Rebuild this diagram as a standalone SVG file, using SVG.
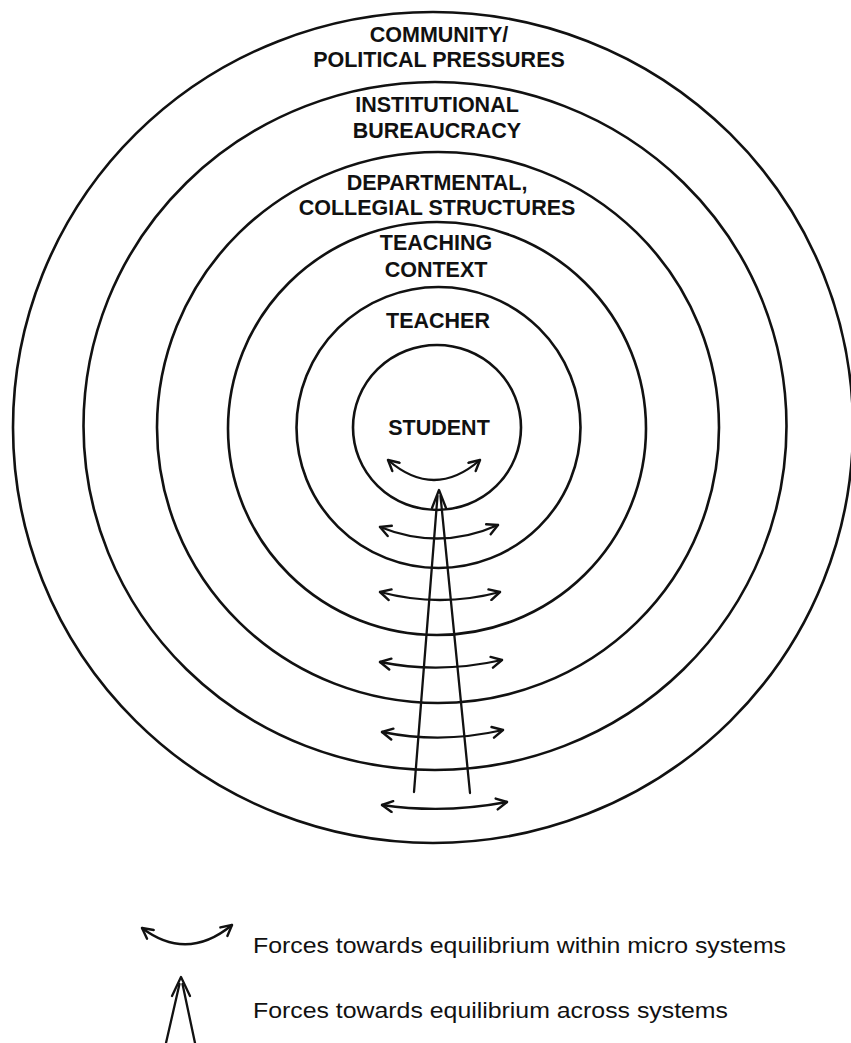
<svg xmlns="http://www.w3.org/2000/svg" width="851" height="1043" viewBox="0 0 851 1043">
  <style>
    .ring { fill: none; stroke: #111; stroke-width: 2.6; }
    .lbl { font-family: "Liberation Sans", Arial, sans-serif; font-weight: bold; font-size: 21.5px; fill: #111; text-anchor: middle; }
    .leg { font-family: "Liberation Sans", Arial, sans-serif; font-size: 22px; fill: #111; }
    .arr { fill: none; stroke: #111; stroke-width: 2.3; stroke-linecap: round; stroke-linejoin: round; }
  </style>
  <defs>
    <marker id="head" viewBox="0 0 14 14" refX="12" refY="7" markerWidth="14" markerHeight="14" markerUnits="userSpaceOnUse" orient="auto-start-reverse">
      <path d="M1.5,1.5 L12,7 L1.5,12.5" fill="none" stroke="#111" stroke-width="2.4" stroke-linecap="round" stroke-linejoin="round"/>
    </marker>
  </defs>
  <rect width="851" height="1043" fill="#fff"/>

  <g id="community">
    <ellipse class="ring" cx="433" cy="427.5" rx="420" ry="415.5"/>
    <text class="lbl" x="439" y="41.5">COMMUNITY/</text>
    <text class="lbl" x="439" y="66.5">POLITICAL PRESSURES</text>
  </g>
  <g id="institutional">
    <ellipse class="ring" cx="435" cy="426" rx="351.5" ry="344"/>
    <text class="lbl" x="437" y="112">INSTITUTIONAL</text>
    <text class="lbl" x="437" y="138">BUREAUCRACY</text>
  </g>
  <g id="departmental">
    <ellipse class="ring" cx="438" cy="427.5" rx="281" ry="275.5"/>
    <text class="lbl" x="437" y="190">DEPARTMENTAL,</text>
    <text class="lbl" x="437" y="215">COLLEGIAL STRUCTURES</text>
  </g>
  <g id="teaching-context">
    <ellipse class="ring" cx="437" cy="428.5" rx="209" ry="206.5"/>
    <text class="lbl" x="436" y="250">TEACHING</text>
    <text class="lbl" x="436" y="277">CONTEXT</text>
  </g>
  <g id="teacher">
    <ellipse class="ring" cx="438.5" cy="427.5" rx="142" ry="140.5"/>
    <text class="lbl" x="438" y="328">TEACHER</text>
  </g>
  <g id="student">
    <ellipse class="ring" cx="437" cy="427.5" rx="84" ry="82.5"/>
    <text class="lbl" x="439" y="435">STUDENT</text>
  </g>

  <g id="connectors">
    <path class="arr" d="M388,460 Q434,500 480,460" marker-start="url(#head)" marker-end="url(#head)"/>
    <path class="arr" d="M380,527 Q440,551 498,525" marker-start="url(#head)" marker-end="url(#head)"/>
    <path class="arr" d="M380,592 Q440,608 500,592" marker-start="url(#head)" marker-end="url(#head)"/>
    <path class="arr" d="M380,662 Q440,674 502,660" marker-start="url(#head)" marker-end="url(#head)"/>
    <path class="arr" d="M382,732 Q442,744 503,730" marker-start="url(#head)" marker-end="url(#head)"/>
    <path class="arr" d="M382,805 Q444,814 507,802" marker-start="url(#head)" marker-end="url(#head)"/>
    <g id="across-arrow">
      <path class="arr" d="M437.5,496 L414,792"/>
      <path class="arr" d="M440.5,496 L470,793"/>
      <path class="arr" d="M432,508 L439,490 L446,508"/>
    </g>
  </g>

  <g id="legend">
    <path class="arr" d="M142,928 Q187,962 232,925" marker-start="url(#head)" marker-end="url(#head)"/>
    <text class="leg" x="253" y="953" textLength="533" lengthAdjust="spacingAndGlyphs">Forces towards equilibrium within micro systems</text>
    <path class="arr" d="M179.5,984 L166,1043"/>
    <path class="arr" d="M182.5,984 L195,1043"/>
    <path class="arr" d="M172,996 L181,977 L190,996"/>
    <text class="leg" x="253" y="1018" textLength="475" lengthAdjust="spacingAndGlyphs">Forces towards equilibrium across systems</text>
  </g>
</svg>
